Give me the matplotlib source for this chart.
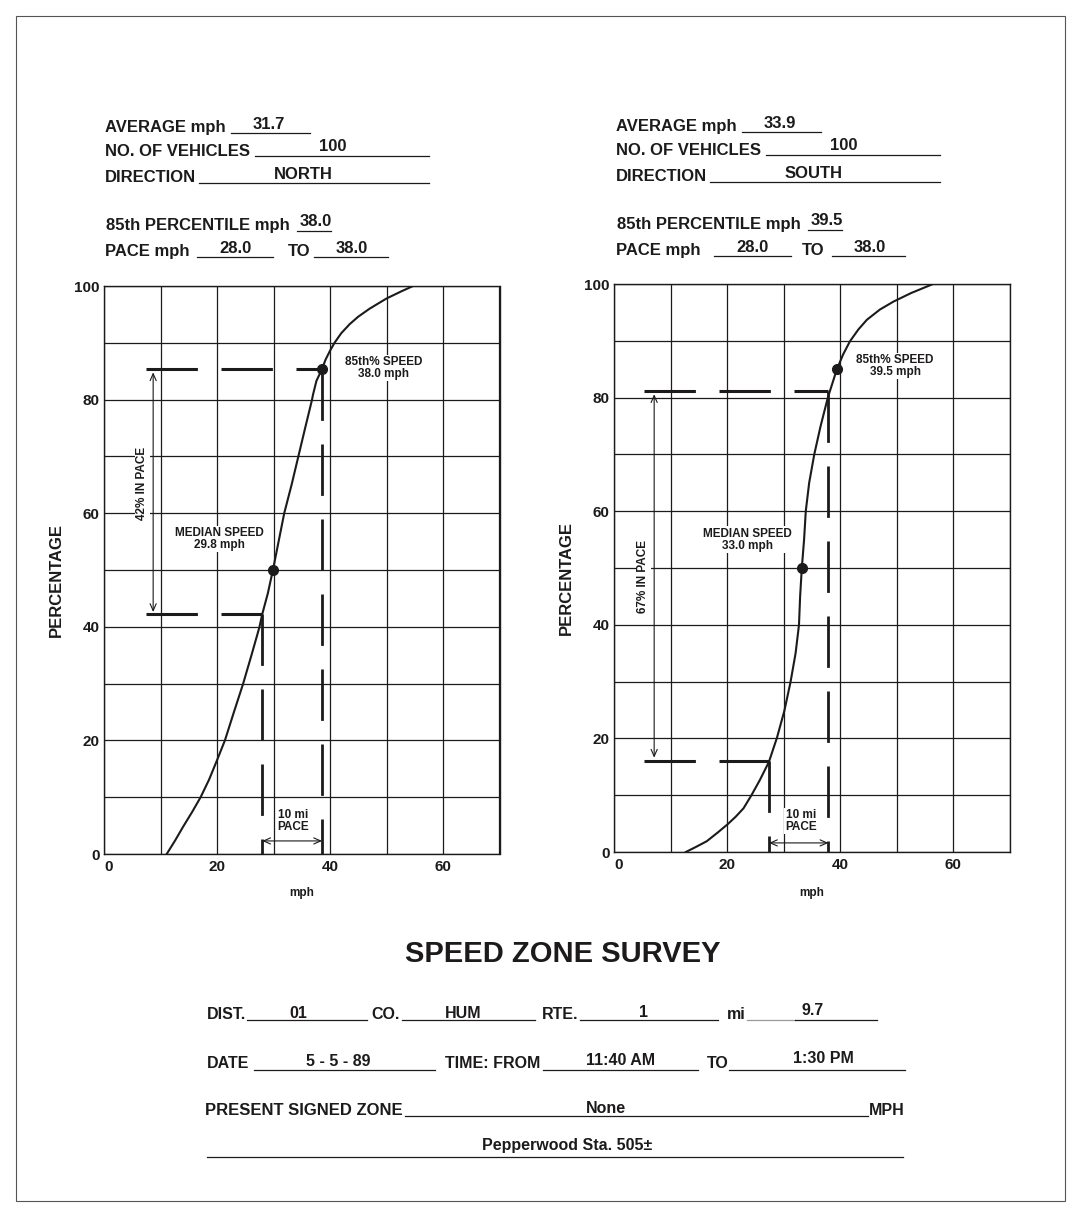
import matplotlib
matplotlib.use("Agg")
import matplotlib.pyplot as plt
from matplotlib.lines import Line2D
from matplotlib.patches import Rectangle, ArrowStyle
from matplotlib.transforms import ScaledTranslation

plt.rcParams['font.family'] = ['Liberation Sans', 'DejaVu Sans']
plt.rcParams['font.weight'] = 'bold'
plt.rcParams['lines.scale_dashes'] = False

# ---- data ----
north_mph = [11.1, 12.6, 14.0, 15.6, 17.1, 18.6, 20.0, 21.4, 23.0, 24.6, 26.1, 27.5, 28.0,
             29.0, 29.9, 31.9, 33.2, 34.4, 35.6, 36.8, 37.0, 37.6, 38.6, 39.2, 40.0,
             40.8, 42.0, 43.5, 45.0, 47.0, 50.0, 52.5, 54.7]
north_pct = [0, 2.4, 4.8, 7.4, 10.0, 13.1, 16.5, 20.0, 25.0, 29.9, 35.0, 39.9, 42.2,
             45.9, 50.0, 60.0, 65.0, 70.0, 75.0, 79.9, 80.9, 83.3, 85.4, 87.0, 88.6,
             90.0, 91.7, 93.3, 94.6, 96.0, 97.8, 99.0, 100]
south_mph = [12.7, 14.5, 16.4, 18.3, 20.1, 21.5, 22.9, 24.3, 25.8, 27.4, 28.8, 30.1, 31.2,
             32.1, 32.4, 32.7, 32.8, 32.9, 33.2, 33.6, 33.9, 34.5, 35.4, 36.5, 37.8,
             39.4, 40.5, 41.7, 43.2, 44.7, 47.0, 49.4, 52.5, 56.4]
south_pct = [0, 0.9, 1.9, 3.4, 4.9, 6.2, 7.7, 10.0, 12.7, 15.9, 20.1, 24.8, 29.9,
             35.0, 37.5, 40.0, 42.5, 45.0, 50.0, 55.0, 60.0, 65.0, 70.0, 74.9, 80.0,
             85.0, 87.6, 89.9, 92.0, 93.7, 95.5, 96.9, 98.4, 100]

# median dot, 85th dot, pace low (mph, %), pace high (mph, %)
north_median = (29.9, 50.0)
north_p85 = (38.6, 85.4)
north_pace_lo = (28.0, 42.2)
north_pace_hi = (38.6, 85.4)
south_median = (33.2, 50.0)
south_p85 = (39.4, 85.0)
south_pace_lo = (27.4, 16.0)
south_pace_hi = (37.9, 81.2)

north_labels = ['MEDIAN SPEED\n29.8 mph', '85th% SPEED\n38.0 mph', '42% IN PACE']
south_labels = ['MEDIAN SPEED\n33.0 mph', '85th% SPEED\n39.5 mph', '67% IN PACE']

# AVERAGE, NO. OF VEHICLES, DIRECTION, 85th, PACE from, PACE to
north_header = ['31.7', '100', 'NORTH', '38.0', '28.0', '38.0']
south_header = ['33.9', '100', 'SOUTH', '39.5', '28.0', '38.0']

form_dist, form_co, form_rte, form_mi = '01', 'HUM', '1', '9.7'
form_date, form_from, form_to = '5 - 5 - 89', '11:40 AM', '1:30 PM'
form_zone = 'None'
form_location = 'Pepperwood Sta. 505\u00b1'

W, H = 1081, 1218
INK = '#1c1a1b'
fig = plt.figure(figsize=(W / 100, H / 100), dpi=100, facecolor='white')


def fx(px):
    return px / W


def fy(py):
    return 1 - py / H


def ftext(px, py, s, ha='left', size=12, **kw):
    fig.text(fx(px), fy(py), s, ha=ha, va='baseline', fontsize=size,
             fontweight='bold', color=INK, **kw)


def fline(x0, x1, py, lw=0.9, color=INK):
    fig.add_artist(Line2D([fx(x0), fx(x1)], [fy(py), fy(py)], color=color, lw=lw))


# outer border
fig.add_artist(Rectangle((fx(16), fy(1201)), fx(1065) - fx(16), fy(16) - fy(1201),
                         fill=False, ec='#555555', lw=0.8, transform=fig.transFigure))


def header(x0, dy, vals, pace_line, to_x, to_line):
    ftext(x0, 131.7 + dy, 'AVERAGE mph')
    fline(x0 + 126, x0 + 205, 133 + dy)
    ftext(x0 + 164, 129.3 + dy, vals[0], ha='center')
    ftext(x0, 156 + dy, 'NO. OF VEHICLES')
    fline(x0 + 150, x0 + 324, 156 + dy)
    ftext(x0 + 228, 151 + dy, vals[1], ha='center')
    ftext(x0, 181.7 + dy, 'DIRECTION')
    fline(x0 + 94, x0 + 324, 182.5 + dy)
    ftext(x0 + 198, 179 + dy, vals[2], ha='center')
    ftext(x0 + 0.7, 230 + dy, '85th PERCENTILE mph')
    fline(x0 + 192, x0 + 226, 231 + dy)
    ftext(x0 + 211, 226 + dy, vals[3], ha='center')
    ftext(x0, 255.7 + dy, 'PACE mph')
    fline(pace_line[0], pace_line[1], 256.5 + dy)
    ftext((pace_line[0] + pace_line[1]) / 2, 252.5 + dy, vals[4], ha='center')
    ftext(to_x, 255.7 + dy, 'TO')
    fline(to_line[0], to_line[1], 256.5 + dy)
    ftext((to_line[0] + to_line[1]) / 2 + 1, 252.5 + dy, vals[5], ha='center')


header(105, 0, north_header, (196.7, 273.3), 288.3, (314, 388.3))
header(616, -0.8, south_header, (714, 790.7), 801.7, (831.7, 905))


def chart(box, curve_x, curve_y, median, p85, lo, hi, labels,
          pace_x, pace_arrow, text_pos, ylab_x):
    left, top, right, bottom = box
    ax = fig.add_axes([fx(left), fy(bottom), (right - left) / W, (bottom - top) / H])
    ax.set_xlim(0, 70)
    ax.set_ylim(0, 100)
    ax.set_xticks(range(0, 71, 10))
    ax.set_yticks(range(0, 101, 10))
    ax.set_xticklabels([str(v) if v % 20 == 0 else '' for v in range(0, 71, 10)])
    ax.set_yticklabels([str(v) if v % 20 == 0 else '' for v in range(0, 101, 10)])
    ax.tick_params(length=0, labelsize=11, colors=INK)
    ax.tick_params(axis='x', pad=4)
    ax.tick_params(axis='y', pad=3)
    for lab in ax.get_xticklabels() + ax.get_yticklabels():
        lab.set_fontweight('bold')
    # the "0" under the axis sits a little right of the corner on the sheet
    zero = ax.get_xticklabels()[0]
    zero.set_transform(zero.get_transform() + ScaledTranslation(0.045, 0, fig.dpi_scale_trans))
    ax.grid(True, color=INK, lw=0.9)
    ax.set_axisbelow(True)
    for sp in ax.spines.values():
        sp.set_color(INK)
        sp.set_linewidth(1.0)

    # pace construction lines
    dash = (37, 17)
    ax.plot([pace_x, hi[0]], [hi[1], hi[1]], color=INK, lw=2.2, dashes=dash,
            dash_capstyle='butt', zorder=3)
    ax.plot([pace_x, lo[0]], [lo[1], lo[1]], color=INK, lw=2.2, dashes=dash,
            dash_capstyle='butt', zorder=3)
    ax.plot([hi[0], hi[0]], [hi[1], 0], color=INK, lw=2.0, dashes=dash,
            dash_capstyle='butt', zorder=3)
    ax.plot([lo[0], lo[0]], [lo[1], 0], color=INK, lw=2.0, dashes=dash,
            dash_capstyle='butt', zorder=3)

    ax.plot(curve_x, curve_y, color=INK, lw=1.5, zorder=4, solid_joinstyle='round')
    ax.plot([median[0], p85[0]], [median[1], p85[1]], 'o', color=INK, ms=7, zorder=5)

    head = ArrowStyle('<->', head_length=0.5, head_width=0.22)
    ax_x, ax_y0, ax_y1 = pace_arrow
    ax.annotate('', xy=(ax_x, ax_y1), xytext=(ax_x, ax_y0),
                arrowprops=dict(arrowstyle=head, lw=0.8, color=INK,
                                shrinkA=0, shrinkB=0, mutation_scale=10), zorder=3)
    ax.annotate('', xy=(hi[0], text_pos[3][1]), xytext=(lo[0], text_pos[3][1]),
                arrowprops=dict(arrowstyle=head, lw=0.8, color=INK,
                                shrinkA=0, shrinkB=0, mutation_scale=10), zorder=3)

    box_kw = dict(boxstyle='square,pad=0.1', fc='white', ec='none')
    ax.text(*text_pos[0], labels[0], ha='center', va='center', fontsize=8.5,
            linespacing=1.0, color=INK, bbox=box_kw, zorder=4)
    ax.text(*text_pos[1], labels[1], ha='center', va='center', fontsize=8.5,
            linespacing=1.0, color=INK, bbox=box_kw, zorder=4)
    ax.text(*text_pos[2], labels[2], ha='center', va='center', fontsize=8.5,
            rotation=90, color=INK, bbox=box_kw, zorder=4)
    ax.text(text_pos[3][0], text_pos[3][2], '10 mi\nPACE', ha='center', va='center',
            fontsize=8.5, linespacing=1.0, color=INK, bbox=box_kw, zorder=4)

    fig.text(fx(ylab_x), fy((top + bottom) / 2 + 10), 'PERCENTAGE', rotation=90,
             ha='center', va='center', fontsize=12, fontweight='bold', color=INK)
    fig.text(fx((left + right) / 2), fy(893), 'mph', ha='center', va='center',
             fontsize=8.5, fontweight='bold', color=INK)
    return ax


chart((104, 286, 499.5, 854), north_mph, north_pct, north_median, north_p85,
      north_pace_lo, north_pace_hi, north_labels, 7.4, (8.7, 84.8, 42.6),
      [(20.5, 55.5), (49.5, 85.6), (6.8, 65.3), (33.5, 2.3, 5.8)], 56.7)
chart((614, 284, 1010, 852), south_mph, south_pct, south_median, south_p85,
      south_pace_lo, south_pace_hi, south_labels, 5.3, (7.1, 80.6, 16.6),
      [(23.6, 55.0), (49.7, 85.6), (5.2, 48.5), (33.1, 1.6, 5.5)], 566.7)

# title
ftext(562.5, 962, 'SPEED ZONE SURVEY', ha='center', size=21)

# bottom form
FS = 11.5
ftext(206.7, 1019, 'DIST.', size=FS)
fline(247.3, 366.7, 1020)
ftext(298.3, 1017.5, form_dist, ha='center', size=FS)
ftext(371.7, 1019, 'CO.', size=FS)
fline(402.3, 535, 1020)
ftext(463.3, 1017.5, form_co, ha='center', size=FS)
ftext(541.7, 1019, 'RTE.', size=FS)
fline(580, 717.7, 1020)
ftext(643.3, 1016.7, form_rte, ha='center', size=FS)
ftext(726.7, 1019, 'mi', size=FS)
fline(747.3, 795, 1020, color='#9a9a9a')
fline(795, 877.3, 1020)
ftext(812.7, 1015, form_mi, ha='center', size=FS)

ftext(206.7, 1068, 'DATE', size=FS)
fline(254, 435, 1070)
ftext(338.3, 1066, form_date, ha='center', size=FS)
ftext(445, 1068, 'TIME: FROM', size=FS)
fline(543.3, 698.3, 1070)
ftext(620.5, 1065, form_from, ha='center', size=FS)
ftext(706.7, 1068, 'TO', size=FS)
fline(729.3, 905, 1070)
ftext(823.3, 1063.3, form_to, ha='center', size=FS)

ftext(205, 1115, 'PRESENT SIGNED ZONE', size=12)
fline(405, 868.3, 1116)
ftext(605.5, 1113.3, form_zone, ha='center', size=FS)
ftext(869.3, 1115, 'MPH', size=FS)

fline(206.7, 903.3, 1156.7)
ftext(567.5, 1150, form_location, ha='center', size=FS)

fig.savefig('out.png', dpi=100, facecolor='white')
